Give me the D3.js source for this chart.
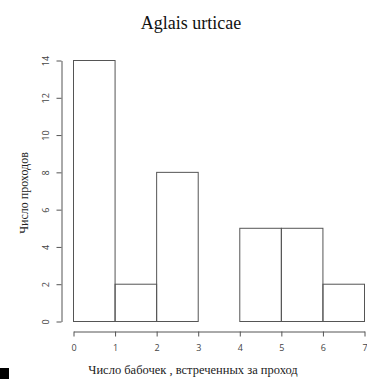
<!DOCTYPE html>
<html>
<head>
<meta charset="utf-8">
<script src="https://cdn.jsdelivr.net/npm/d3@7"></script>
<style>
  body { margin: 0; background: #fff; }
  svg { display: block; }
  .serif { font-family: 'Liberation Serif', 'Times New Roman', 'DejaVu Serif', serif; }
</style>
</head>
<body>
<div id="chart"></div>
<script>
// histogram bins and counts
const binEdges = [0, 1, 2, 3, 4, 5, 6, 7];
const counts = [14, 2, 8, 0, 5, 5, 2];
const xTicks = [0, 1, 2, 3, 4, 5, 6, 7];
const yTicks = [0, 2, 4, 6, 8, 10, 12, 14];
const title = 'Aglais urticae';
const xLabel = 'Число бабочек , встреченных за проход';
const yLabel = 'Число проходов';

const width = 367;
const height = 379;

const svg = d3.select('#chart')
  .append('svg')
  .attr('width', width)
  .attr('height', height);

const x = d3.scaleLinear().domain([0, 7]).range([73, 364]);
const y = d3.scaleLinear().domain([0, 14]).range([321, 60]);

const bins = counts.map((c, i) => ({ x0: binEdges[i], x1: binEdges[i + 1], n: c }));

// bars
svg.append('g')
  .selectAll('rect')
  .data(bins)
  .join('rect')
  .attr('x', d => x(d.x0) + 0.5)
  .attr('y', d => y(d.n) + 0.5)
  .attr('width', d => x(d.x1) - x(d.x0))
  .attr('height', d => y(0) - y(d.n))
  .attr('fill', 'none')
  .attr('stroke', '#555')
  .attr('stroke-width', 1);

// x axis
const gx = svg.append('g')
  .attr('transform', 'translate(0.5,331.5)')
  .call(d3.axisBottom(x).tickValues(xTicks).tickFormat(d3.format('d'))
    .tickSize(5).tickPadding(8).tickSizeOuter(0));
gx.select('.domain').attr('stroke', '#555');
gx.selectAll('.tick line').attr('stroke', '#555');
gx.selectAll('.tick text')
  .attr('fill', '#444')
  .style('font-family', '"Open Sans", sans-serif')
  .style('font-size', '9px');

// y axis
const gy = svg.append('g')
  .attr('transform', 'translate(61.5,0.5)')
  .call(d3.axisLeft(y).tickValues(yTicks).tickFormat(d3.format('d'))
    .tickSize(5).tickSizeOuter(0));
gy.select('.domain').attr('stroke', '#555');
gy.selectAll('.tick line').attr('stroke', '#555');
gy.selectAll('.tick text')
  .attr('fill', '#444')
  .attr('x', null)
  .attr('dy', null)
  .attr('text-anchor', 'middle')
  .attr('transform', 'translate(-13,0) rotate(-90)')
  .style('font-family', '"Open Sans", sans-serif')
  .style('font-size', '9px');

// title
svg.append('text')
  .attr('class', 'serif')
  .attr('x', 191)
  .attr('y', 29)
  .attr('text-anchor', 'middle')
  .style('font-size', '18px')
  .attr('fill', '#111')
  .text(title);

// x label
svg.append('text')
  .attr('class', 'serif')
  .attr('x', 193)
  .attr('y', 374)
  .attr('text-anchor', 'middle')
  .style('font-size', '12.5px')
  .attr('fill', '#222')
  .text(xLabel);

// y label
svg.append('text')
  .attr('class', 'serif')
  .attr('transform', 'translate(28,193) rotate(-90)')
  .attr('text-anchor', 'middle')
  .style('font-size', '12px')
  .attr('fill', '#222')
  .text(yLabel);

// black marker in the corner
svg.append('rect')
  .attr('x', 0).attr('y', 368)
  .attr('width', 9).attr('height', 11)
  .attr('fill', '#000');
</script>
</body>
</html>
